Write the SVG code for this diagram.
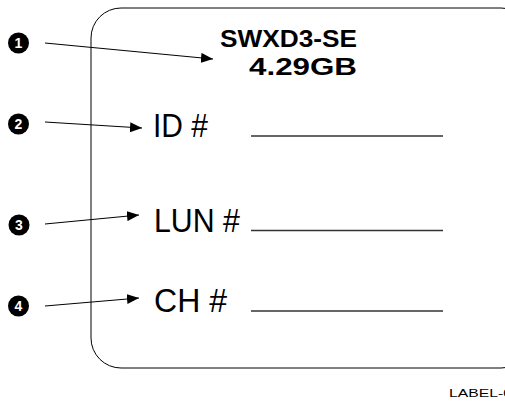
<svg xmlns="http://www.w3.org/2000/svg" width="505" height="405" viewBox="0 0 505 405">
<style>
.num{font-family:"Liberation Sans",Arial,sans-serif;font-weight:bold;font-size:14px;fill:#fff;text-anchor:middle}
.lbl{font-family:"Liberation Sans",Arial,sans-serif;font-size:33px;fill:#000}
.ttl{font-family:"Liberation Sans",Arial,sans-serif;font-size:24px;font-weight:bold;fill:#000}
.conn{stroke:#000;stroke-width:1;fill:none}
.blank{stroke:#333;stroke-width:1.3}
</style>
<defs>
<marker id="ah" markerWidth="12" markerHeight="10" refX="12" refY="5" orient="auto" markerUnits="userSpaceOnUse">
<path d="M0,0 L12,5 L0,10 Z" fill="#000"/>
</marker>
</defs>
<g id="label-card">
<rect x="91" y="8" width="440" height="360" rx="30" ry="30" fill="#fff" stroke="#000" stroke-width="1"/>
<text class="ttl" x="220" y="47" textLength="137" lengthAdjust="spacingAndGlyphs">SWXD3-SE</text>
<text class="ttl" x="249" y="75" textLength="108" lengthAdjust="spacingAndGlyphs">4.29GB</text>
</g>
<g id="field-id">
<text class="lbl" x="153" y="137" textLength="55" lengthAdjust="spacingAndGlyphs">ID #</text>
<line class="blank" x1="251" y1="136" x2="443" y2="136"/>
</g>
<g id="field-lun">
<text class="lbl" x="154" y="232" textLength="86" lengthAdjust="spacingAndGlyphs">LUN #</text>
<line class="blank" x1="251" y1="230.5" x2="443" y2="230.5"/>
</g>
<g id="field-ch">
<text class="lbl" x="154" y="312" textLength="73" lengthAdjust="spacingAndGlyphs">CH #</text>
<line class="blank" x1="251" y1="311" x2="443" y2="311"/>
</g>
<g id="callout-1">
<circle cx="18.5" cy="43" r="10.5" fill="#000"/>
<text class="num" x="18.5" y="48">1</text>
</g>
<g id="callout-2">
<circle cx="18.5" cy="124" r="10.5" fill="#000"/>
<text class="num" x="18.5" y="129">2</text>
</g>
<g id="callout-3">
<circle cx="19" cy="225" r="10.5" fill="#000"/>
<text class="num" x="19" y="230">3</text>
</g>
<g id="callout-4">
<circle cx="18.5" cy="306" r="10.5" fill="#000"/>
<text class="num" x="18.5" y="311">4</text>
</g>
<g id="connectors">
<line class="conn" x1="45" y1="43" x2="213" y2="59" marker-end="url(#ah)"/>
<line class="conn" x1="45" y1="122" x2="142" y2="128" marker-end="url(#ah)"/>
<line class="conn" x1="45" y1="224" x2="139" y2="215" marker-end="url(#ah)"/>
<line class="conn" x1="45" y1="306" x2="139" y2="298" marker-end="url(#ah)"/>
</g>
<text x="449" y="397" font-family="Liberation Sans,Arial,sans-serif" font-size="11" fill="#000" textLength="63" lengthAdjust="spacingAndGlyphs">LABEL-0</text>
</svg>
